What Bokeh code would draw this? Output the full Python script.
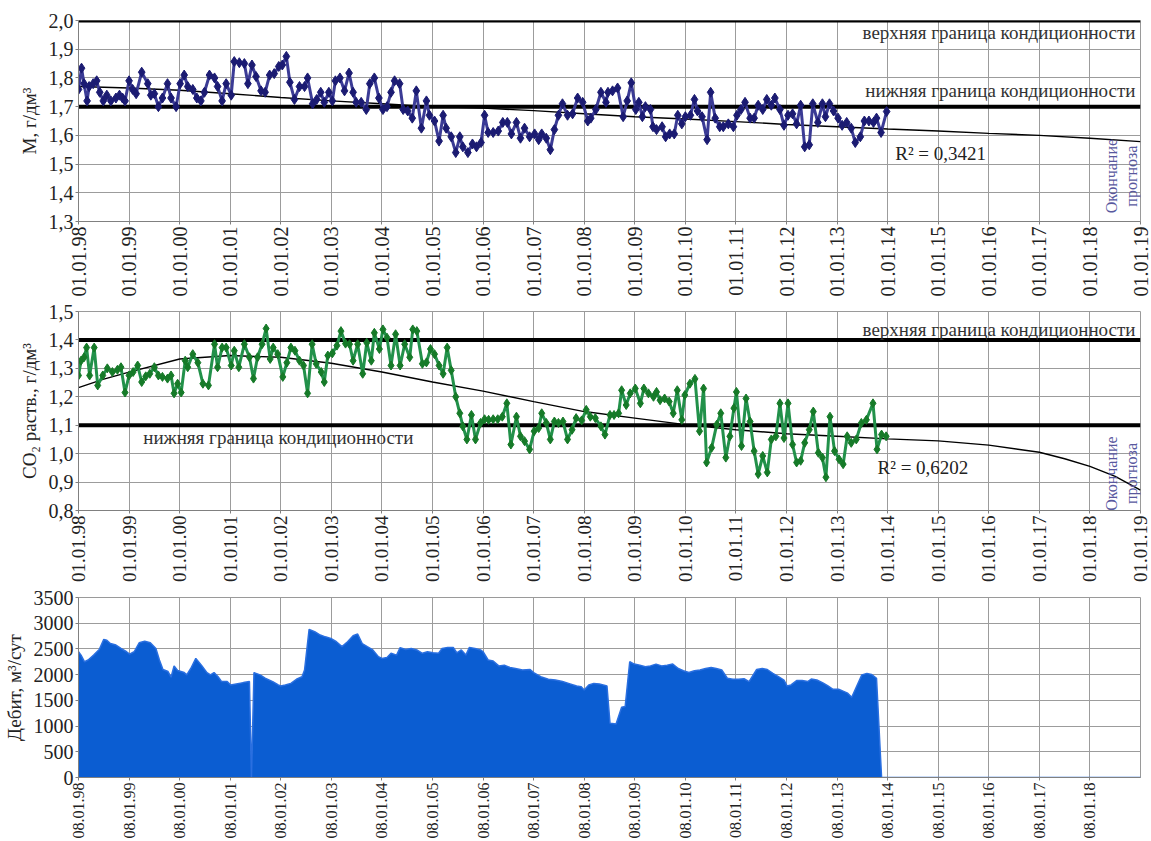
import math
from bokeh.plotting import figure
from bokeh.layouts import column
from bokeh.models import FixedTicker, Label, Range1d
from bokeh.embed import file_html
from bokeh.resources import INLINE

SERIF = "Liberation Serif"

# ---------------- data ----------------
year_ticks = [1998, 1999, 2000, 2001, 2002, 2003, 2004, 2005, 2006, 2007, 2008,
              2009, 2010, 2011, 2012, 2013, 2014, 2015, 2016, 2017, 2018, 2019]
tick_labels_0101 = ["01.01.98", "01.01.99", "01.01.00", "01.01.01", "01.01.02", "01.01.03",
                    "01.01.04", "01.01.05", "01.01.06", "01.01.07", "01.01.08", "01.01.09",
                    "01.01.10", "01.01.11", "01.01.12", "01.01.13", "01.01.14", "01.01.15",
                    "01.01.16", "01.01.17", "01.01.18", "01.01.19"]
debit_ticks = [1998, 1999, 2000, 2001, 2002, 2003, 2004, 2005, 2006, 2007, 2008,
               2009, 2010, 2011, 2012, 2013, 2014, 2015, 2016, 2017, 2018]
tick_labels_0801 = ["08.01.98", "08.01.99", "08.01.00", "08.01.01", "08.01.02", "08.01.03",
                    "08.01.04", "08.01.05", "08.01.06", "08.01.07", "08.01.08", "08.01.09",
                    "08.01.10", "08.01.11", "08.01.12", "08.01.13", "08.01.14", "08.01.15",
                    "08.01.16", "08.01.17", "08.01.18"]

m_ticks = [1.3, 1.4, 1.5, 1.6, 1.7, 1.8, 1.9, 2.0]
m_tick_labels = ["1,3", "1,4", "1,5", "1,6", "1,7", "1,8", "1,9", "2,0"]
co2_ticks = [0.8, 0.9, 1.0, 1.1, 1.2, 1.3, 1.4, 1.5]
co2_tick_labels = ["0,8", "0,9", "1,0", "1,1", "1,2", "1,3", "1,4", "1,5"]
debit_yticks = [0, 500, 1000, 1500, 2000, 2500, 3000, 3500]
debit_ytick_labels = ["0", "500", "1000", "1500", "2000", "2500", "3000", "3500"]

m_limits = [2.0, 1.7]        # верхняя / нижняя граница кондиционности
co2_limits = [1.4, 1.1]

m_years = [1998.00, 1998.06, 1998.11, 1998.17, 1998.21, 1998.29, 1998.36, 1998.42, 1998.49, 1998.56,
           1998.64, 1998.74, 1998.81, 1998.87, 1998.92, 1999.00, 1999.07, 1999.14, 1999.25, 1999.37,
           1999.43, 1999.50, 1999.58, 1999.66, 1999.76, 1999.83, 1999.93, 2000.01, 2000.09, 2000.16,
           2000.26, 2000.34, 2000.42, 2000.49, 2000.59, 2000.69, 2000.75, 2000.84, 2000.92, 2001.02,
           2001.08, 2001.18, 2001.28, 2001.35, 2001.43, 2001.51, 2001.61, 2001.69, 2001.78, 2001.87,
           2001.96, 2002.03, 2002.11, 2002.18, 2002.27, 2002.37, 2002.47, 2002.53, 2002.63, 2002.71,
           2002.79, 2002.86, 2002.95, 2003.02, 2003.08, 2003.17, 2003.26, 2003.35, 2003.43, 2003.49,
           2003.59, 2003.69, 2003.76, 2003.85, 2003.94, 2004.02, 2004.10, 2004.18, 2004.25, 2004.35,
           2004.42, 2004.51, 2004.60, 2004.68, 2004.78, 2004.88, 2004.94, 2005.04, 2005.13, 2005.21,
           2005.27, 2005.37, 2005.46, 2005.54, 2005.60, 2005.70, 2005.79, 2005.87, 2005.96,
           2006.03, 2006.10, 2006.20, 2006.30, 2006.39, 2006.48, 2006.56, 2006.66, 2006.74, 2006.82,
           2006.92, 2007.02, 2007.10, 2007.16, 2007.25, 2007.33, 2007.41, 2007.49, 2007.57, 2007.67,
           2007.77, 2007.87, 2007.97, 2008.07, 2008.13, 2008.23, 2008.33, 2008.43, 2008.47, 2008.56,
           2008.66, 2008.77, 2008.85, 2008.93, 2009.02, 2009.08, 2009.15, 2009.21, 2009.31, 2009.36,
           2009.43, 2009.54, 2009.61, 2009.69, 2009.78, 2009.85, 2009.93, 2010.00, 2010.10, 2010.18,
           2010.24, 2010.33, 2010.43, 2010.50, 2010.59, 2010.68, 2010.75, 2010.85, 2010.95, 2011.02,
           2011.10, 2011.18, 2011.28, 2011.36, 2011.44, 2011.53, 2011.61, 2011.70, 2011.77, 2011.87,
           2011.95, 2012.03, 2012.12, 2012.20, 2012.28, 2012.36, 2012.45, 2012.52, 2012.62, 2012.71,
           2012.77, 2012.85, 2012.93, 2013.02, 2013.10, 2013.19, 2013.28, 2013.36, 2013.46, 2013.54,
           2013.63, 2013.72, 2013.78, 2013.87, 2013.98]
m_values = [1.76, 1.834, 1.78, 1.72, 1.77, 1.78, 1.79, 1.75, 1.72, 1.74,
            1.72, 1.73, 1.74, 1.73, 1.72, 1.79, 1.76, 1.745, 1.82, 1.78,
            1.74, 1.745, 1.70, 1.73, 1.78, 1.73, 1.70, 1.78, 1.81, 1.77,
            1.76, 1.73, 1.72, 1.75, 1.81, 1.80, 1.77, 1.72, 1.78, 1.74,
            1.857, 1.853, 1.85, 1.78, 1.845, 1.805, 1.755, 1.75, 1.81, 1.815,
            1.84, 1.845, 1.875, 1.785, 1.725, 1.77, 1.77, 1.80, 1.71, 1.725,
            1.75, 1.715, 1.75, 1.72, 1.79, 1.80, 1.755, 1.817, 1.75, 1.715,
            1.715, 1.69, 1.78, 1.80, 1.73, 1.69, 1.70, 1.75, 1.79, 1.78,
            1.69, 1.685, 1.66, 1.755, 1.625, 1.72, 1.67, 1.65, 1.58, 1.67,
            1.625, 1.595, 1.54, 1.595, 1.56, 1.54, 1.57, 1.56, 1.575,
            1.67, 1.61, 1.61, 1.615, 1.645, 1.645, 1.605, 1.645, 1.59, 1.625,
            1.595, 1.605, 1.585, 1.605, 1.59, 1.55, 1.62, 1.67, 1.71, 1.67,
            1.675, 1.73, 1.715, 1.65, 1.66, 1.69, 1.75, 1.715, 1.75, 1.755,
            1.765, 1.665, 1.72, 1.783, 1.69, 1.715, 1.665, 1.70, 1.69, 1.63,
            1.62, 1.63, 1.595, 1.605, 1.605, 1.67, 1.64, 1.665, 1.67, 1.725,
            1.685, 1.665, 1.585, 1.75, 1.66, 1.63, 1.63, 1.64, 1.63, 1.67,
            1.69, 1.715, 1.66, 1.66, 1.705, 1.69, 1.725, 1.705, 1.73, 1.69,
            1.635, 1.67, 1.675, 1.64, 1.705, 1.56, 1.567, 1.71, 1.645, 1.71,
            1.665, 1.71, 1.685, 1.66, 1.635, 1.645, 1.625, 1.575, 1.595, 1.65,
            1.65, 1.645, 1.66, 1.61, 1.683]

m_trend_years = [1998, 1999, 2000, 2001, 2002, 2003, 2004, 2005, 2006, 2007, 2008,
                 2009, 2010, 2011, 2012, 2013, 2014, 2015, 2016, 2017, 2018, 2019]
m_trend_values = [1.770, 1.765, 1.757, 1.745, 1.732, 1.720, 1.710, 1.700, 1.695, 1.686, 1.675,
                  1.665, 1.657, 1.648, 1.638, 1.630, 1.622, 1.615, 1.607, 1.600, 1.590, 1.578]

co2_years = [1998.00, 1998.05, 1998.11, 1998.16, 1998.22, 1998.31, 1998.38, 1998.48, 1998.57, 1998.67,
             1998.77, 1998.84, 1998.92, 1999.00, 1999.08, 1999.17, 1999.25, 1999.33, 1999.41, 1999.50,
             1999.58, 1999.66, 1999.76, 1999.83, 1999.89, 1999.96, 2000.03, 2000.11, 2000.16, 2000.26,
             2000.36, 2000.46, 2000.57, 2000.69, 2000.75, 2000.84, 2000.92, 2001.02, 2001.08, 2001.17,
             2001.28, 2001.38, 2001.46, 2001.54, 2001.63, 2001.71, 2001.79, 2001.85, 2001.94, 2002.04,
             2002.12, 2002.20, 2002.28, 2002.37, 2002.45, 2002.53, 2002.62, 2002.70, 2002.80, 2002.86,
             2002.93, 2003.02, 2003.11, 2003.19, 2003.28, 2003.36, 2003.43, 2003.52, 2003.62, 2003.70,
             2003.79, 2003.85, 2003.95, 2004.02, 2004.10, 2004.18, 2004.27, 2004.36, 2004.45, 2004.55,
             2004.61, 2004.69, 2004.80, 2004.88, 2004.96, 2005.04, 2005.13, 2005.21, 2005.29, 2005.37,
             2005.46, 2005.54, 2005.60, 2005.68, 2005.77, 2005.85, 2005.95,
             2006.03, 2006.11, 2006.20, 2006.29, 2006.38, 2006.47, 2006.55, 2006.66, 2006.74, 2006.82,
             2006.92, 2007.01, 2007.10, 2007.16, 2007.25, 2007.33, 2007.41, 2007.49, 2007.58, 2007.67,
             2007.76, 2007.84, 2007.95, 2008.04, 2008.12, 2008.22, 2008.33, 2008.41, 2008.51, 2008.59,
             2008.68, 2008.74, 2008.83, 2008.91, 2009.01, 2009.11, 2009.18, 2009.27, 2009.37, 2009.43,
             2009.50, 2009.59, 2009.68, 2009.76, 2009.84, 2009.93, 2009.99, 2010.09, 2010.19, 2010.28,
             2010.36, 2010.42, 2010.52, 2010.62, 2010.70, 2010.80, 2010.88, 2010.96, 2011.01, 2011.11,
             2011.20, 2011.28, 2011.36, 2011.44, 2011.53, 2011.62, 2011.70, 2011.79, 2011.87, 2011.95,
             2012.03, 2012.12, 2012.20, 2012.28, 2012.36, 2012.45, 2012.53, 2012.63, 2012.71, 2012.78,
             2012.86, 2012.95, 2013.04, 2013.12, 2013.20, 2013.28, 2013.38, 2013.48, 2013.58, 2013.71,
             2013.79, 2013.88, 2013.97]
co2_values = [1.275, 1.327, 1.339, 1.373, 1.275, 1.373, 1.24, 1.275, 1.30, 1.287,
              1.295, 1.304, 1.215, 1.275, 1.287, 1.31, 1.252, 1.272, 1.281, 1.304,
              1.275, 1.27, 1.264, 1.275, 1.212, 1.246, 1.215, 1.327, 1.304, 1.35,
              1.32, 1.246, 1.24, 1.385, 1.304, 1.373, 1.373, 1.31, 1.362, 1.304,
              1.385, 1.339, 1.264, 1.339, 1.385, 1.44, 1.333, 1.373, 1.35, 1.27,
              1.32, 1.373, 1.362, 1.327, 1.31, 1.212, 1.385, 1.316, 1.287, 1.252,
              1.345, 1.353, 1.38, 1.431, 1.387, 1.385, 1.327, 1.385, 1.281, 1.39,
              1.327, 1.425, 1.368, 1.437, 1.408, 1.31, 1.42, 1.31, 1.385, 1.339,
              1.437, 1.431, 1.316, 1.321, 1.368, 1.35, 1.31, 1.281, 1.373, 1.293,
              1.20, 1.142, 1.096, 1.05, 1.136, 1.05, 1.108,
              1.121, 1.119, 1.121, 1.121, 1.13, 1.177, 1.032, 1.13, 1.061, 1.044,
              1.015, 1.079, 1.09, 1.142, 1.108, 1.05, 1.113, 1.108, 1.113, 1.05,
              1.084, 1.125, 1.117, 1.154, 1.13, 1.125, 1.096, 1.067, 1.136, 1.136,
              1.142, 1.223, 1.171, 1.212, 1.229, 1.177, 1.229, 1.212, 1.20, 1.217,
              1.188, 1.194, 1.183, 1.142, 1.223, 1.119, 1.206, 1.246, 1.263, 1.079,
              1.229, 0.969, 1.021, 1.102, 1.142, 0.986, 1.061, 1.16, 1.217, 1.027,
              1.194, 1.113, 1.009, 0.928, 0.992, 0.934, 1.05, 1.061, 1.177, 1.055,
              1.177, 1.032, 0.969, 0.975, 1.038, 1.084, 1.148, 1.003, 0.986, 0.917,
              1.13, 1.009, 0.98, 0.963, 1.061, 1.038, 1.05, 1.108, 1.119, 1.177,
              1.015, 1.067, 1.061]

co2_trend_years = [1998, 1998.5, 1999, 2000, 2001, 2002, 2003, 2004, 2005, 2006, 2007, 2008,
                   2009, 2010, 2011, 2012, 2013, 2014, 2015, 2016, 2017, 2017.5, 2018, 2018.5, 2019]
co2_trend_values = [1.232, 1.262, 1.287, 1.333, 1.345, 1.339, 1.318, 1.287, 1.252, 1.220, 1.183, 1.148,
                    1.125, 1.102, 1.084, 1.070, 1.061, 1.052, 1.045, 1.030, 1.005, 0.982, 0.955, 0.92, 0.872]

debit_years = [1998.00, 1998.05, 1998.12, 1998.19, 1998.30, 1998.41, 1998.50, 1998.56, 1998.63, 1998.74,
               1998.84, 1998.95, 1999.01, 1999.10, 1999.20, 1999.31, 1999.42, 1999.53, 1999.60, 1999.67,
               1999.77, 1999.83, 1999.89, 1999.96, 2000.09, 2000.14, 2000.22, 2000.32, 2000.43, 2000.54,
               2000.61, 2000.68, 2000.76, 2000.83, 2000.94, 2001.01, 2001.12, 2001.26, 2001.38, 2001.42,
               2001.47, 2001.59, 2001.69, 2001.84, 2001.95, 2002.00, 2002.09, 2002.20, 2002.31, 2002.42,
               2002.47, 2002.56, 2002.67, 2002.78, 2002.88, 2002.99, 2003.10, 2003.21, 2003.32, 2003.43,
               2003.52, 2003.61, 2003.71, 2003.82, 2003.93, 2004.00, 2004.10, 2004.18, 2004.29, 2004.36,
               2004.47, 2004.58, 2004.69, 2004.80, 2004.90, 2005.01, 2005.12, 2005.19, 2005.30, 2005.41,
               2005.48, 2005.57, 2005.66, 2005.73, 2005.84, 2005.95, 2006.00, 2006.10, 2006.20, 2006.31,
               2006.42, 2006.53, 2006.64, 2006.78, 2006.93, 2007.00, 2007.14, 2007.29, 2007.43, 2007.57,
               2007.72, 2007.85, 2007.94, 2008.00, 2008.09, 2008.19, 2008.30, 2008.45, 2008.51, 2008.63,
               2008.74, 2008.81, 2008.90, 2008.99, 2009.10, 2009.21, 2009.31, 2009.42, 2009.53, 2009.64,
               2009.75, 2009.86, 2009.96, 2010.07, 2010.18, 2010.29, 2010.40, 2010.51, 2010.61, 2010.72,
               2010.83, 2010.94, 2011.05, 2011.16, 2011.26, 2011.41, 2011.52, 2011.62, 2011.73, 2011.84,
               2011.95, 2012.01, 2012.09, 2012.20, 2012.31, 2012.42, 2012.49, 2012.60, 2012.71, 2012.82,
               2012.92, 2013.03, 2013.14, 2013.21, 2013.29, 2013.37, 2013.49, 2013.59, 2013.68, 2013.78,
               2013.88, 2019.00]
debit_values = [2445, 2380, 2250, 2285, 2380, 2490, 2685, 2670, 2605, 2575,
                2510, 2445, 2400, 2445, 2620, 2650, 2620, 2510, 2285, 2100,
                2060, 1950, 2170, 2080, 2040, 1995, 2120, 2315, 2185, 2040,
                1995, 2040, 1960, 1865, 1865, 1800, 1820, 1845, 1865, 0,
                2040, 1995, 1930, 1865, 1800, 1780, 1800, 1830, 1910, 1960,
                2090, 2880, 2835, 2770, 2735, 2705, 2640, 2545, 2640, 2755,
                2790, 2605, 2545, 2480, 2350, 2315, 2335, 2415, 2380, 2525,
                2490, 2510, 2480, 2415, 2445, 2425, 2415, 2510, 2530, 2530,
                2425, 2480, 2380, 2530, 2510, 2480, 2445, 2285, 2265, 2170,
                2185, 2140, 2120, 2090, 2100, 2040, 1960, 1910, 1895, 1865,
                1820, 1780, 1765, 1700, 1800, 1830, 1820, 1780, 1055, 1040,
                1365, 1380, 2250, 2205, 2185, 2155, 2170, 2205, 2170, 2185,
                2205, 2120, 2075, 2040, 2075, 2090, 2120, 2140, 2120, 2090,
                1930, 1910, 1910, 1920, 1865, 2100, 2120, 2100, 2025, 1960,
                1895, 1780, 1800, 1885, 1885, 1865, 1915, 1895, 1845, 1780,
                1715, 1715, 1670, 1640, 1560, 1735, 1995, 2025, 2005, 1930,
                0, 0]

# ---------------- styling helpers ----------------
TEXT = "#222222"
GRID = "#9c9c9c"
FIG_W = 1151


def base_fig(height, b_top, b_bottom, y_lo, y_hi, yticks, ylabels, xticks, xlabels,
             ylabel, xlabel_size):
    p = figure(width=FIG_W, height=height, x_range=Range1d(1998, 2019),
               y_range=Range1d(y_lo, y_hi), output_backend="svg", toolbar_location=None,
               min_border_left=75, min_border_right=11, min_border_top=b_top,
               min_border_bottom=b_bottom)
    p.background_fill_color = "white"
    p.border_fill_color = "white"
    p.outline_line_color = "#9a9a9a"
    p.xaxis.ticker = FixedTicker(ticks=xticks)
    p.xaxis.major_label_overrides = dict(zip(xticks, xlabels))
    p.xaxis.major_label_orientation = math.pi / 2
    p.yaxis.ticker = FixedTicker(ticks=yticks)
    p.yaxis.major_label_overrides = dict(zip(yticks, ylabels))
    for ax in (p.xaxis[0], p.yaxis[0]):
        ax.axis_line_color = "#808080"
        ax.major_tick_line_color = "#808080"
        ax.major_tick_out = 3
        ax.major_tick_in = 0
        ax.minor_tick_line_color = None
        ax.major_label_text_font = SERIF
        ax.major_label_text_color = TEXT
        ax.major_label_standoff = 2
    p.xaxis.major_label_text_font_size = xlabel_size
    p.yaxis.major_label_text_font_size = "20px"
    p.yaxis.axis_label = ylabel
    p.yaxis.axis_label_text_font = SERIF
    p.yaxis.axis_label_text_font_style = "normal"
    p.yaxis.axis_label_text_font_size = "19px"
    p.yaxis.axis_label_text_color = TEXT
    p.yaxis.axis_label_standoff = 6
    p.xgrid.grid_line_color = GRID
    p.ygrid.grid_line_color = GRID
    p.xgrid.grid_line_width = 1
    p.ygrid.grid_line_width = 1
    return p


def add_text(p, x, y, text, align="left", size="19px", color="#333333", angle=0.0):
    p.add_layout(Label(x=x, y=y, text=text, text_align=align, text_baseline="middle",
                       text_font=SERIF, text_font_size=size, text_color=color, angle=angle))


# ---------------- panel 1: mineralization ----------------
p1 = base_fig(299, 20, 75, 1.3, 2.0, m_ticks, m_tick_labels, year_ticks, tick_labels_0101,
              "M, г/дм³", "20px")
for lim in m_limits:
    p1.line([year_ticks[0], year_ticks[-1]], [lim, lim], line_color="black", line_width=4)
p1.line(m_trend_years, m_trend_values, line_color="black", line_width=1.4)
p1.line(m_years, m_values, line_color="#3b3b95", line_width=3)
p1.scatter(m_years, m_values, marker="diamond", size=10, fill_color="#1b1b72",
           line_color="#1b1b72")
add_text(p1, 2018.9, 1.958, "верхняя граница кондиционности", align="right")
add_text(p1, 2018.9, 1.756, "нижняя граница кондиционности", align="right")
add_text(p1, 2014.15, 1.536, "R² = 0,3421", size="19px", color="#222222")
add_text(p1, 2018.62, 1.458, "Окончание\nпрогноза", align="center", size="16px",
         color="#58589e", angle=math.pi / 2)

# ---------------- panel 2: CO2 ----------------
p2 = base_fig(286, 12, 72, 0.8, 1.5, co2_ticks, co2_tick_labels, year_ticks, tick_labels_0101,
              "CO₂ раств., г/дм³", "19px")
for lim in co2_limits:
    p2.line([year_ticks[0], year_ticks[-1]], [lim, lim], line_color="black", line_width=4)
p2.line(co2_trend_years, co2_trend_values, line_color="black", line_width=1.4)
p2.line(co2_years, co2_values, line_color="#22914a", line_width=3)
p2.scatter(co2_years, co2_values, marker="diamond", size=9, fill_color="#167a28",
           line_color="#167a28")
add_text(p2, 2018.9, 1.438, "верхняя граница кондиционности", align="right")
add_text(p2, 1999.28, 1.057, "нижняя граница кондиционности")
add_text(p2, 2013.8, 0.953, "R² = 0,6202", size="19px", color="#222222")
add_text(p2, 2018.62, 0.93, "Окончание\nпрогноза", align="center", size="16px",
         color="#58589e", angle=math.pi / 2)

# ---------------- panel 3: debit ----------------
p3 = base_fig(256, 12, 63, 0, 3500, debit_yticks, debit_ytick_labels,
              debit_ticks, tick_labels_0801, "Дебит, м³/сут", "16px")
p3.varea(x=debit_years, y1=0, y2=debit_values, fill_color="#0b5dd2", fill_alpha=1.0)
p3.line(debit_years, debit_values, line_color="#2a6fe0", line_width=1.5)

layout = column(p1, p2, p3, spacing=0)

with open("out.html", "w", encoding="utf-8") as f:
    f.write(file_html(layout, INLINE))
